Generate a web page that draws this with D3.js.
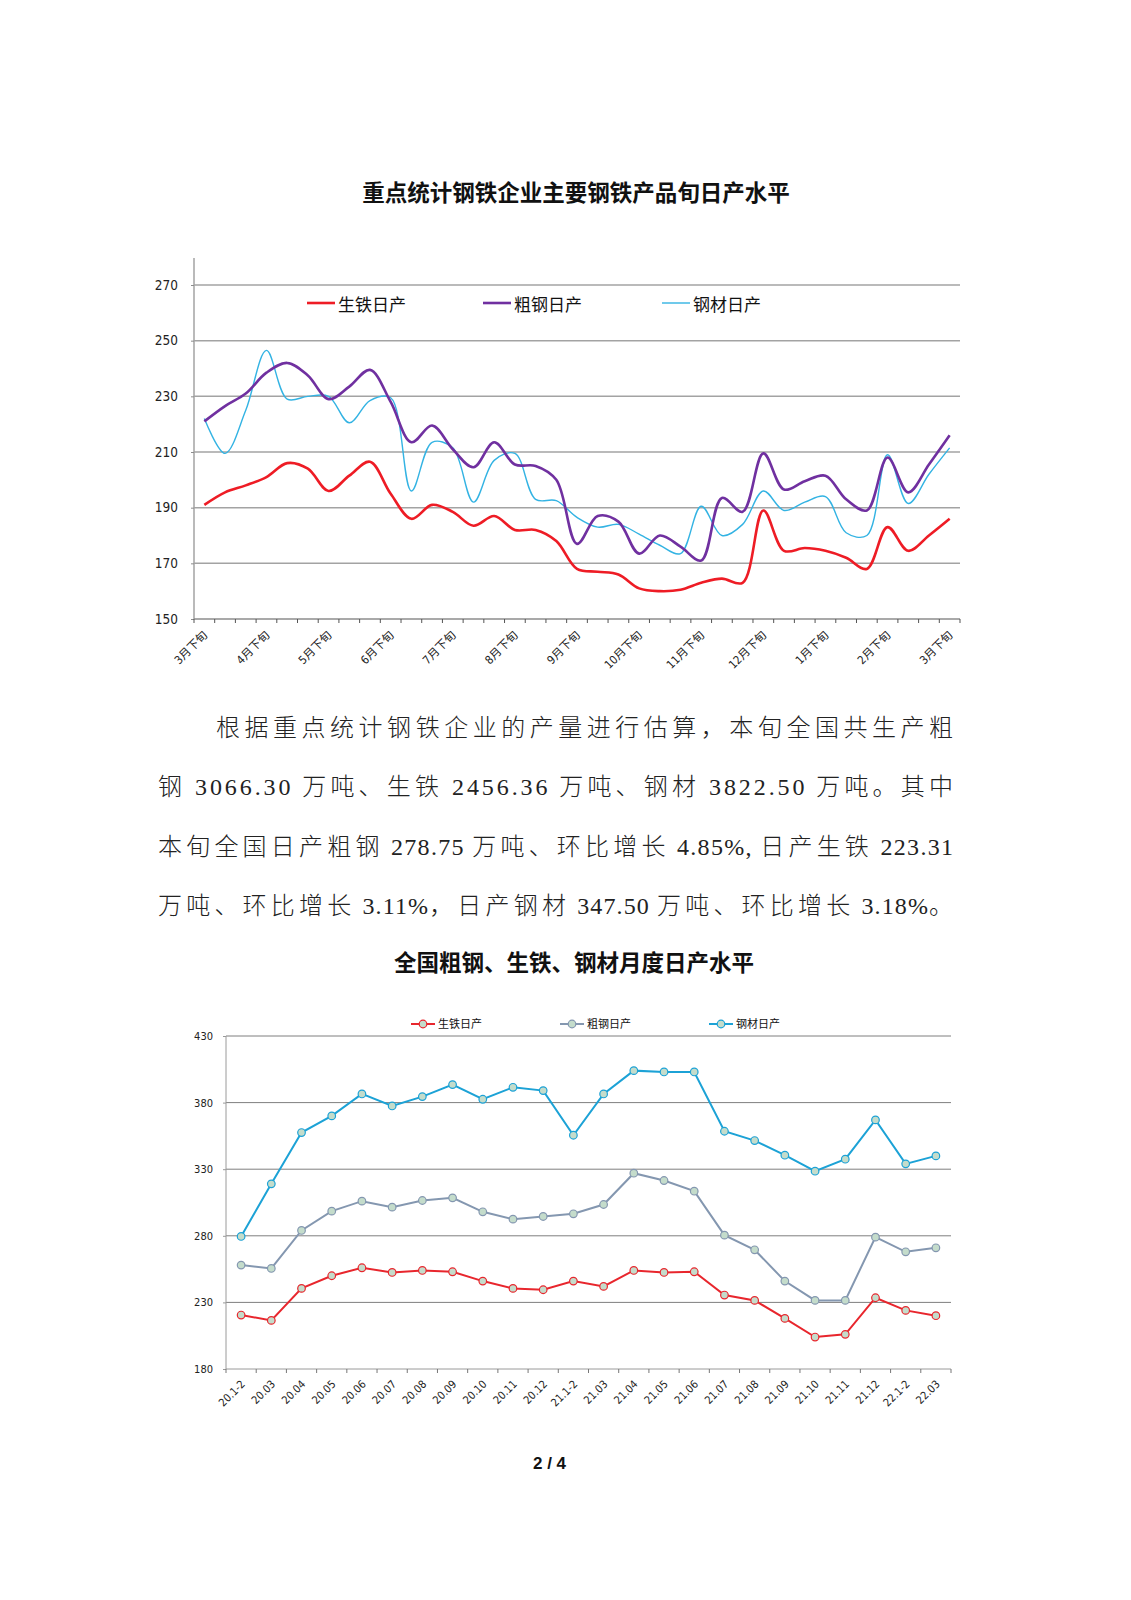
<!DOCTYPE html>
<html lang="zh-CN">
<head>
<meta charset="UTF-8">
<title>钢铁产品日产水平</title>
<script src="https://d3js.org/d3.v7.min.js"></script>
<style>
  body { margin: 0; background: #fff; }
  svg { display: block; }
  .num { font-family: "Liberation Sans Narrow", "DejaVu Sans Condensed", "Liberation Sans", "Noto Sans CJK SC", sans-serif; fill: #222; }
  .cjk { font-family: "Noto Sans CJK SC", sans-serif; fill: #111; }
  .body-text { font-family: "Liberation Serif", "Times New Roman", "DejaVu Serif", "Noto Sans CJK SC", serif; fill: #222; }
  .body-text .han { font-family: "Noto Sans CJK SC", sans-serif; font-weight: 300; }
</style>
</head>
<body>
<svg id="page" width="1131" height="1600"></svg>
<script>
// ---- chart 1: 旬日产 (dekad) ----
const dekads = ["3月下旬",
  "4月上旬", "4月中旬", "4月下旬", "5月上旬", "5月中旬", "5月下旬",
  "6月上旬", "6月中旬", "6月下旬", "7月上旬", "7月中旬", "7月下旬",
  "8月上旬", "8月中旬", "8月下旬", "9月上旬", "9月中旬", "9月下旬",
  "10月上旬", "10月中旬", "10月下旬", "11月上旬", "11月中旬", "11月下旬",
  "12月上旬", "12月中旬", "12月下旬", "1月上旬", "1月中旬", "1月下旬",
  "2月上旬", "2月中旬", "2月下旬", "3月上旬", "3月中旬", "3月下旬 "];
const pigDekad = [191, 195.5, 198, 201, 206, 204, 196, 201.5, 206.5, 195, 186, 191, 188.5,
  183.5, 187, 182, 182, 178, 168, 167, 166, 161, 160, 160.5, 163,
  164.5, 163, 189, 174.5, 175.5, 174.5, 172, 168, 183, 174.5, 180, 186];
const crudeDekad = [221, 226.5, 231, 238.5, 242, 237.5, 229, 233.5, 239.5, 228, 213.5, 219.5, 211,
  204.5, 213.5, 205.5, 205, 200, 177, 187, 185, 173.5, 180, 176, 171,
  193.5, 188.5, 209.5, 196.5, 199.5, 201.5, 193, 189, 208, 195.5, 205.5, 216];
const steelDekad = [222, 209.5, 225, 246.5, 229, 230, 230, 220.5, 228.5, 229.5, 196, 213.5, 211.5,
  192, 207, 209.5, 193, 192.5, 186.5, 183, 184, 180.5, 176.5, 173.5, 190.5,
  180, 184, 196, 189, 192, 194, 181, 180, 209, 191.5, 202, 211.5];
const dekadTicks = [150, 170, 190, 210, 230, 250, 270];

// ---- chart 2: 月度日产 ----
const months = ["20.1-2", "20.03", "20.04", "20.05", "20.06", "20.07", "20.08", "20.09",
  "20.10", "20.11", "20.12", "21.1-2", "21.03", "21.04", "21.05", "21.06",
  "21.07", "21.08", "21.09", "21.10", "21.11", "21.12", "22.1-2", "22.03"];
const pigMonth = [220.5, 216.5, 240.5, 250, 256, 252.5, 254, 253, 246, 240.5, 239.5, 246,
  242, 254, 252.5, 253, 235.5, 231.5, 218, 204, 206, 233.5, 224, 220];
const crudeMonth = [258, 255.5, 284, 298.5, 306, 301.5, 306.5, 308.5, 298, 292.5, 294.5, 296.5,
  303.5, 327, 321.5, 313.5, 280.5, 269.5, 246, 231.5, 231.5, 279, 268, 271];
const steelMonth = [279.5, 319, 357.5, 370, 386.5, 377.5, 384.5, 393.5, 382.5, 391.5, 389, 355.5,
  386.5, 404, 403, 403, 358.5, 351.5, 340.5, 328.5, 337.5, 367, 334, 340];
const monthTicks = [180, 230, 280, 330, 380, 430];

const paragraph = [
  "根据重点统计钢铁企业的产量进行估算，本旬全国共生产粗",
  "钢 3066.30 万吨、生铁 2456.36 万吨、钢材 3822.50 万吨。其中",
  "本旬全国日产粗钢 278.75 万吨、环比增长 4.85%, 日产生铁 223.31",
  "万吨、环比增长 3.11%，日产钢材 347.50 万吨、环比增长 3.18%。"
];

const svg = d3.select('#page');
svg.append('rect').attr('width', 1131).attr('height', 1600).attr('fill', '#fff');

// ================= chart 1 =================
svg.append('text')
  .attr('class', 'cjk')
  .attr('x', 576).attr('y', 201)
  .attr('text-anchor', 'middle')
  .style('font-size', '22.5px').style('font-weight', 'bold')
  .text('重点统计钢铁企业主要钢铁产品旬日产水平');

const x1 = d3.scaleBand().domain(dekads).range([194, 960]);
const y1 = d3.scaleLinear().domain([150, 270]).range([619, 285]);
const g1 = svg.append('g');

// gridlines
g1.selectAll('.grid1').data(dekadTicks.slice(1)).join('line')
  .attr('x1', 194).attr('x2', 960)
  .attr('y1', d => y1(d)).attr('y2', d => y1(d))
  .attr('stroke', '#a3a3a3').attr('stroke-width', 1.5);

// axes lines
g1.append('line').attr('x1', 194).attr('x2', 194).attr('y1', 258).attr('y2', y1(150))
  .attr('stroke', '#a3a3a3').attr('stroke-width', 1.5);
g1.append('line').attr('x1', 194).attr('x2', 960).attr('y1', y1(150)).attr('y2', y1(150))
  .attr('stroke', '#8c8c8c').attr('stroke-width', 1.5);

// y axis labels
const yAxis1 = g1.append('g').attr('transform', 'translate(194,0)')
  .call(d3.axisLeft(y1).tickValues(dekadTicks).tickSize(3).tickPadding(13));
yAxis1.select('.domain').remove();
yAxis1.selectAll('line').attr('stroke', '#8c8c8c');
yAxis1.selectAll('text').attr('class', 'num').style('font-size', '13.5px').attr('fill', '#222');

// x ticks at category boundaries
const bounds1 = dekads.map(d => x1(d)).concat([960]);
g1.selectAll('.xtick1').data(bounds1).join('line')
  .attr('x1', d => d).attr('x2', d => d)
  .attr('y1', y1(150)).attr('y2', y1(150) + 4)
  .attr('stroke', '#555').attr('stroke-width', 1);

// x labels (下旬 only)
const bw1 = x1.bandwidth();
g1.selectAll('.xlab1').data(dekads.filter(d => d.trim().endsWith('下旬'))).join('text')
  .attr('class', 'num')
  .attr('text-anchor', 'end')
  .attr('dy', '0.35em')
  .attr('transform', d => `translate(${x1(d) + bw1 / 2 + 1},633) rotate(-45)`)
  .style('font-size', '11.5px')
  .text(d => d.trim());

const line1 = d3.line()
  .x((d, i) => x1(dekads[i]) + bw1 / 2)
  .y(d => y1(d))
  .curve(d3.curveCatmullRom.alpha(0.5));

const series1 = [
  { name: '生铁日产', values: pigDekad, color: '#ee1c25', width: 2.6 },
  { name: '粗钢日产', values: crudeDekad, color: '#7030a0', width: 2.6 },
  { name: '钢材日产', values: steelDekad, color: '#33b3e3', width: 1.4 }
];
// steel drawn first, crude on top
[series1[2], series1[0], series1[1]].forEach(s => {
  g1.append('path').datum(s.values)
    .attr('d', line1)
    .attr('fill', 'none')
    .attr('stroke', s.color)
    .attr('stroke-width', s.width)
    .attr('stroke-linejoin', 'round');
});

// legend 1
const legend1X = [307, 483, 662];
series1.forEach((s, i) => {
  const lx = legend1X[i];
  g1.append('line').attr('x1', lx).attr('x2', lx + 28).attr('y1', 303).attr('y2', 303)
    .attr('stroke', s.color).attr('stroke-width', s.width);
  g1.append('text').attr('class', 'cjk').attr('x', lx + 31).attr('y', 311)
    .style('font-size', '17px').attr('fill', '#222').text(s.name);
});

// ================= paragraph =================
// justified: Chinese keeps a fixed pitch, latin runs (digits, spaces) absorb the rest
const paraBase = [736, 795, 855, 914];
const hanRe = /[\u3000-\u303f\u4e00-\u9fff\uff00-\uffef]/;
const hanGap = 4.2;
paragraph.forEach((t, i) => {
  const x0 = i === 0 ? 216 : 158;
  const target = 953 - x0;
  const runs = [];
  for (const ch of t) {
    const isHan = hanRe.test(ch);
    const last = runs[runs.length - 1];
    if (last && last.han === isHan) last.text += ch;
    else runs.push({ han: isHan, text: ch });
  }
  const txt = svg.append('text')
    .attr('class', 'body-text')
    .attr('x', x0).attr('y', paraBase[i])
    .style('font-size', '24px');
  const spans = txt.selectAll('tspan').data(runs).join('tspan')
    .attr('class', d => d.han ? 'han' : null)
    .text(d => d.text);
  const natural = txt.node().getComputedTextLength();
  const hanCount = runs.filter(r => r.han).reduce((a, r) => a + r.text.length, 0);
  const latCount = runs.filter(r => !r.han).reduce((a, r) => a + r.text.length, 0);
  const lastHan = runs[runs.length - 1].han ? 1 : 0;
  if (latCount === 0) {
    const sp = (target - natural) / Math.max(1, hanCount - 1);
    spans.style('letter-spacing', sp + 'px');
  } else {
    const rest = target - natural - hanGap * (hanCount - lastHan);
    const sp = rest / (latCount - (lastHan ? 0 : 1));
    spans.style('letter-spacing', d => (d.han ? hanGap : sp) + 'px');
  }
});

// ================= chart 2 =================
svg.append('text')
  .attr('class', 'cjk')
  .attr('x', 574).attr('y', 971)
  .attr('text-anchor', 'middle')
  .style('font-size', '22.5px').style('font-weight', 'bold')
  .text('全国粗钢、生铁、钢材月度日产水平');

const x2 = d3.scaleBand().domain(months).range([226, 951]);
const y2 = d3.scaleLinear().domain([180, 430]).range([1369, 1036]);
const g2 = svg.append('g');
const bw2 = x2.bandwidth();

g2.selectAll('.grid2').data(monthTicks.slice(1)).join('line')
  .attr('x1', 226).attr('x2', 951)
  .attr('y1', d => y2(d)).attr('y2', d => y2(d))
  .attr('stroke', '#7f7f7f').attr('stroke-width', 1);

g2.append('line').attr('x1', 226).attr('x2', 226).attr('y1', y2(430)).attr('y2', y2(180))
  .attr('stroke', '#9a9a9a').attr('stroke-width', 1);
g2.append('line').attr('x1', 226).attr('x2', 951).attr('y1', y2(180)).attr('y2', y2(180))
  .attr('stroke', '#9a9a9a').attr('stroke-width', 1);

const yAxis2 = g2.append('g').attr('transform', 'translate(226,0)')
  .call(d3.axisLeft(y2).tickValues(monthTicks).tickSize(3).tickPadding(10));
yAxis2.select('.domain').remove();
yAxis2.selectAll('line').attr('stroke', '#9a9a9a');
yAxis2.selectAll('text').attr('class', 'num').style('font-size', '11px').attr('fill', '#222');

const bounds2 = months.map(d => x2(d)).concat([951]);
g2.selectAll('.xtick2').data(bounds2).join('line')
  .attr('x1', d => d).attr('x2', d => d)
  .attr('y1', y2(180)).attr('y2', y2(180) + 4)
  .attr('stroke', '#777').attr('stroke-width', 1);

g2.selectAll('.xlab2').data(months).join('text')
  .attr('class', 'num')
  .attr('text-anchor', 'end')
  .attr('dy', '0.35em')
  .attr('transform', d => `translate(${x2(d) + bw2 / 2 + 2},1382) rotate(-45)`)
  .style('font-size', '11px')
  .text(d => d);

const line2 = d3.line()
  .x((d, i) => x2(months[i]) + bw2 / 2)
  .y(d => y2(d));

const series2 = [
  { name: '生铁日产', values: pigMonth, color: '#e8262d' },
  { name: '粗钢日产', values: crudeMonth, color: '#8497b0' },
  { name: '钢材日产', values: steelMonth, color: '#1ca2d6' }
];
series2.forEach(s => {
  g2.append('path').datum(s.values)
    .attr('d', line2)
    .attr('fill', 'none')
    .attr('stroke', s.color)
    .attr('stroke-width', 2);
  g2.selectAll(null).data(s.values).join('circle')
    .attr('cx', (d, i) => x2(months[i]) + bw2 / 2)
    .attr('cy', d => y2(d))
    .attr('r', 3.8)
    .attr('fill', '#c4dccb')
    .attr('stroke', s.color)
    .attr('stroke-width', 1.2);
});

// legend 2
const legend2X = [411, 560, 709];
series2.forEach((s, i) => {
  const lx = legend2X[i];
  g2.append('line').attr('x1', lx).attr('x2', lx + 24).attr('y1', 1024).attr('y2', 1024)
    .attr('stroke', s.color).attr('stroke-width', 2);
  g2.append('circle').attr('cx', lx + 12).attr('cy', 1024).attr('r', 3.8)
    .attr('fill', '#c4dccb').attr('stroke', s.color).attr('stroke-width', 1.2);
  g2.append('text').attr('class', 'cjk').attr('x', lx + 27).attr('y', 1028)
    .style('font-size', '11px').attr('fill', '#222').text(s.name);
});

// page number
svg.append('text')
  .attr('x', 549.5).attr('y', 1469)
  .attr('text-anchor', 'middle')
  .style('font-family', '"Liberation Sans", Arial, sans-serif')
  .style('font-size', '17px').style('font-weight', 'bold')
  .attr('fill', '#111')
  .text('2 / 4');
</script>
</body>
</html>
